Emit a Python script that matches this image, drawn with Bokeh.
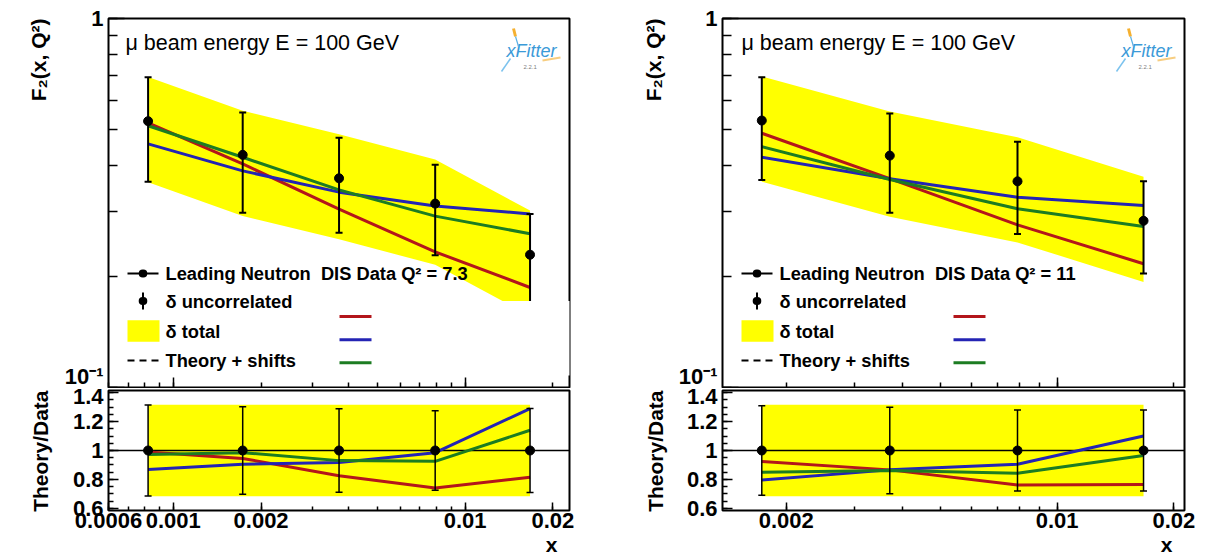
import numpy as np
from bokeh.plotting import figure
from bokeh.models import (Range1d, FixedTicker, CustomJSTickFormatter, Label,
                          Arrow, BoxAnnotation, Title)
from bokeh.layouts import row, column
from bokeh.embed import file_html
from bokeh.resources import INLINE

# ---------------- data ----------------
# Q^2 = 7.3 panel
x_q73 = [0.00082, 0.00173, 0.0037, 0.0079, 0.0167]
f2_q73 = [0.527, 0.427, 0.369, 0.315, 0.229]
unc_q73 = [0.315, 0.303, 0.288, 0.275, 0.290]
tot_q73 = [0.317, 0.317, 0.317, 0.317, 0.317]
red_q73 = [0.990, 0.945, 0.825, 0.740, 0.815]
blue_q73 = [0.868, 0.905, 0.917, 0.985, 1.290]
green_q73 = [0.972, 0.985, 0.930, 0.925, 1.140]

# Q^2 = 11 panel
x_q11 = [0.00173, 0.0037, 0.0079, 0.0167]
f2_q11 = [0.529, 0.425, 0.362, 0.283]
unc_q11 = [0.310, 0.300, 0.280, 0.280]
tot_q11 = [0.317, 0.317, 0.317, 0.317]
red_q11 = [0.924, 0.866, 0.762, 0.765]
blue_q11 = [0.796, 0.866, 0.905, 1.100]
green_q11 = [0.850, 0.862, 0.843, 0.965]

# tick labels
xlab_q73 = [0.0006, 0.001, 0.002, 0.01, 0.02]
xlab_q11 = [0.002, 0.01, 0.02]
ratio_ticks = [0.6, 0.8, 1.0, 1.2, 1.4]
main_y_ticks = [0.1, 1.0]

title_text = "\u03bc beam energy E = 100 GeV"
legend_texts = ["\u03b4 uncorrelated", "\u03b4 total", "Theory + shifts"]
ytitle_main = "F\u2082(x, Q\u00b2)"
ytitle_ratio = "Theory/Data"
xtitle = "x"

FONT = "Liberation Sans"
RED = "#b3161b"
BLUE = "#2424b4"
GREEN = "#1c7c22"
YELLOW = "#ffff00"

MAIN_H = 388
MAIN_TOP = 18
MAIN_FH = 369
RATIO_H = 167
RATIO_TOP = 2
RATIO_FH = 121
TICK_FS = "22px"


def log_minors(lo, hi):
    out = []
    for e in range(-5, 1):
        for k in range(1, 10):
            v = k * 10.0 ** e
            if lo * 0.999 <= v <= hi * 1.001:
                out.append(v)
    return out


def style_axis(ax, maj, mnr, size=TICK_FS, standoff=5):
    ax.axis_line_color = None
    ax.major_tick_in = maj
    ax.major_tick_out = 0
    ax.minor_tick_in = mnr
    ax.minor_tick_out = 0
    ax.major_tick_line_color = "black"
    ax.minor_tick_line_color = "black"
    ax.major_tick_line_width = 1.5
    ax.minor_tick_line_width = 1.5
    ax.major_label_text_font = FONT
    ax.major_label_text_font_style = "bold"
    ax.major_label_text_font_size = size
    ax.major_label_text_color = "black"
    ax.major_label_standoff = standoff


def add_label(p, sx, sy, text, size, style="bold", align="left",
              baseline="middle", angle=0.0, color="black"):
    p.add_layout(Label(x=sx, y=sy, x_units="screen", y_units="screen",
                       text=text, text_font=FONT, text_font_size=f"{size}px",
                       text_font_style=style, text_align=align,
                       text_baseline=baseline, angle=angle, text_color=color))


def add_seg(p, x0, y0, x1, y1, color="black", width=2.0, dash="solid",
            cap="butt", alpha=1.0):
    p.add_layout(Arrow(end=None, x_start=x0, y_start=y0, x_end=x1, y_end=y1,
                       start_units="screen", end_units="screen",
                       line_color=color, line_width=width, line_dash=dash,
                       line_cap=cap, line_alpha=alpha))


def side_title(p, text, place, standoff, offset=0):
    p.add_layout(Title(text=text, align="right", text_font=FONT,
                       text_font_size="21px", text_font_style="bold",
                       text_color="black", standoff=standoff, offset=offset),
                 place)


def base_fig(width, height, bl, br, bt, bb, xmin, xmax, yrange, ylog):
    p = figure(width=width, height=height, x_axis_type="log",
               y_axis_type="log" if ylog else "linear",
               x_range=Range1d(xmin, xmax), y_range=yrange,
               min_border_left=bl, min_border_right=br, min_border_top=bt,
               min_border_bottom=bb, toolbar_location=None, tools="",
               output_backend="svg")
    p.grid.visible = False
    p.outline_line_color = "black"
    p.outline_line_width = 2
    p.background_fill_color = "white"
    p.border_fill_color = "white"
    return p


def make_panel(x, f2, unc, tot, red, blue, green, xmin, xmax, xlabels,
               q2txt, width, bl, br, title_dx, ttl_main, ttl_ratio):
    fw = width - bl - br
    xs = np.array(x)
    f = np.array(f2)
    u = np.array(unc)
    t = np.array(tot)
    curves = [(np.array(red), RED), (np.array(blue), BLUE), (np.array(green), GREEN)]
    minors = log_minors(xmin, xmax)

    # ---------------- main pad ----------------
    m = base_fig(width, MAIN_H, bl, br, MAIN_TOP, MAIN_H - MAIN_TOP - MAIN_FH,
                 xmin, xmax, Range1d(0.1, 1.0), True)
    xa = m.xaxis[0]
    style_axis(xa, 10, 5, size="1px", standoff=0)
    xa.major_label_text_alpha = 0.0
    xa.ticker = FixedTicker(ticks=[0.001, 0.01], minor_ticks=minors)
    ya = m.yaxis[0]
    style_axis(ya, 16, 9, standoff=5)
    ya.ticker = FixedTicker(ticks=main_y_ticks, minor_ticks=log_minors(0.1, 1.0))
    ya.formatter = CustomJSTickFormatter(
        code="return tick < 0.5 ? '10\u207b\u00b9' : '1';")
    side_title(m, ytitle_main, "left", ttl_main)

    m.varea(x=xs, y1=f * (1 - t), y2=f * (1 + t), fill_color=YELLOW, fill_alpha=1.0)
    for r, col in curves:
        m.line(xs, f * r, line_color=col, line_width=3)
    m.segment(x0=xs, y0=f * (1 - u), x1=xs, y1=f * (1 + u),
              line_color="black", line_width=2)
    m.scatter(np.r_[xs, xs], np.r_[f * (1 - u), f * (1 + u)], marker="dash",
              size=7, line_color="black", line_width=2)
    m.scatter(xs, f, marker="circle", size=9, fill_color="black", line_color="black")

    # title, logo
    add_label(m, title_dx, 345, title_text, 21.5, style="normal")
    add_label(m, fw - 38, 337, "xFitter", 18, style="italic", align="center",
              color="#3b9ad8")
    add_label(m, fw - 46, 321, "2.2.1", 6, style="normal", align="left",
              color="#808080")
    add_seg(m, fw - 56, 359, fw - 54, 351, color="#f5b030", width=3)
    add_seg(m, fw - 54, 351, fw - 51, 341, color="#5ab0e6", width=1.2)
    add_seg(m, fw - 68, 316, fw - 59, 329, color="#7cc3ee", width=1.5)
    add_seg(m, fw - 27, 327, fw - 9, 330, color="#f5c060", width=2, alpha=0.8)

    # legend (data)
    rows = [114, 86.5, 56.5, 27]
    gx0, gx1, gc, tx = 19, 50, 34.5, 57
    add_seg(m, gx0, rows[0], gx1, rows[0], width=2)
    add_seg(m, gc - 0.3, rows[0], gc + 0.3, rows[0], width=8, cap="round")
    add_label(m, tx, rows[0], "Leading Neutron \u00a0DIS Data Q\u00b2 = " + q2txt, 18.3)
    add_seg(m, gc, rows[1] - 8.5, gc, rows[1] + 8.5, width=2)
    add_seg(m, gc - 0.3, rows[1], gc + 0.3, rows[1], width=8, cap="round")
    add_label(m, tx, rows[1], legend_texts[0], 18.3)
    add_seg(m, gx0, rows[2], gx1 + 1, rows[2], color=YELLOW, width=21.5)
    add_label(m, tx, rows[2], legend_texts[1], 18.3)
    add_seg(m, gx0, rows[3], gx1, rows[3], width=2, dash="7 5")
    add_label(m, tx, rows[3], legend_texts[2], 18.3)

    # legend (models, names blanked by a white box)
    box_right = fw + 8 if title_dx < 18 else fw - 7
    m.add_layout(BoxAnnotation(left=222, right=box_right, top=86.5, bottom=12,
                               left_units="screen", right_units="screen",
                               top_units="screen", bottom_units="screen",
                               fill_color="white", fill_alpha=1.0, line_color=None,
                               level="annotation"))
    for yy, col in zip([71, 47.7, 24.7], [RED, BLUE, GREEN]):
        add_seg(m, 231, yy, 263, yy, color=col, width=3)

    # ---------------- ratio pad ----------------
    rp = base_fig(width, RATIO_H, bl, br, RATIO_TOP, RATIO_H - RATIO_TOP - RATIO_FH,
                  xmin, xmax, Range1d(0.585, 1.415), False)
    rx = rp.xaxis[0]
    style_axis(rx, 8, 4, standoff=2)
    rx.ticker = FixedTicker(ticks=xlabels, minor_ticks=minors)
    rx.formatter = CustomJSTickFormatter(
        code="return parseFloat(tick.toPrecision(3)).toString();")
    ry = rp.yaxis[0]
    style_axis(ry, 10, 5, standoff=5)
    ry.ticker = FixedTicker(ticks=ratio_ticks,
                            minor_ticks=[round(0.6 + 0.05 * i, 2) for i in range(17)])
    ry.formatter = CustomJSTickFormatter(
        code="return parseFloat(tick.toFixed(2)).toString();")
    side_title(rp, ytitle_ratio, "left", ttl_ratio)
    side_title(rp, xtitle, "below", 0, offset=12)

    one = np.ones_like(xs)
    rp.varea(x=xs, y1=one - t, y2=one + t, fill_color=YELLOW, fill_alpha=1.0)
    rp.hspan(y=[1.0], line_color="black", line_width=1.5)
    for r, col in curves:
        rp.line(xs, r, line_color=col, line_width=3)
    rp.segment(x0=xs, y0=one - u, x1=xs, y1=one + u, line_color="black", line_width=1.5)
    rp.scatter(np.r_[xs, xs], np.r_[one - u, one + u], marker="dash", size=7,
               line_color="black", line_width=1.5)
    rp.scatter(xs, one, marker="circle", size=9, fill_color="black", line_color="black")

    return column(m, rp)


left = make_panel(x_q73, f2_q73, unc_q73, tot_q73, red_q73, blue_q73, green_q73,
                  0.0006, 0.0228, xlab_q73, "7.3", 610, 108, 41, 17, 23, 36)
right = make_panel(x_q11, f2_q11, unc_q11, tot_q11, red_q11, blue_q11, green_q11,
                   0.00137, 0.0213, xlab_q11, "11", 609, 112, 35, 19, 21, 34)

layout = row(left, right)
open("out.html", "w", encoding="utf-8").write(file_html(layout, INLINE))
